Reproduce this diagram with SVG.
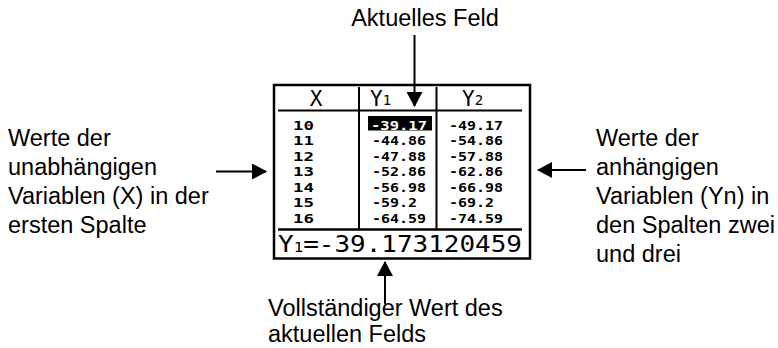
<svg xmlns="http://www.w3.org/2000/svg" width="778" height="348" viewBox="0 0 778 348">
<style>
.lbl{font-family:"Liberation Sans",Arial,sans-serif;font-size:23.5px;fill:#000}
.hd{font-family:"DejaVu Sans Mono",monospace;font-size:21px;fill:#000}
.sub{font-size:14px}
.dat{font-family:"DejaVu Sans Mono",monospace;font-size:12.8px;font-weight:bold;fill:#000}
.big{font-family:"DejaVu Sans Mono",monospace;font-size:23px;fill:#000}
.ln{stroke:#000;stroke-width:2;fill:none}
.conn{stroke:#000;stroke-width:2;fill:none;marker-end:url(#ah)}
</style>
<defs>
<marker id="ah" markerUnits="userSpaceOnUse" markerWidth="15" markerHeight="16" refX="14" refY="8" orient="auto">
<path d="M0,0 L15,8 L0,16 z" fill="#000"/>
</marker>
</defs>
<rect width="778" height="348" fill="#fff"/>
<g id="screen">
<rect x="274" y="85" width="256" height="173.5" stroke="#000" stroke-width="2.5" fill="none"/>
<line x1="278" y1="110.5" x2="522" y2="110.5" class="ln"/>
<line x1="278" y1="229.5" x2="522" y2="229.5" stroke="#000" stroke-width="2.5"/>
<line x1="359" y1="87" x2="359" y2="229" class="ln"/>
<line x1="436.5" y1="87" x2="436.5" y2="229" class="ln"/>
<text class="hd" x="316" y="106" text-anchor="middle">X</text>
<text class="hd" x="370" y="106">Y<tspan class="sub" dy="-1">1</tspan></text>
<text class="hd" x="462" y="106">Y<tspan class="sub" dy="-1">2</tspan></text>
<rect x="368" y="116" width="64" height="14.5" fill="#000"/>
<g class="dat">
<text x="293" y="129.5" textLength="21" lengthAdjust="spacingAndGlyphs">10</text>
<text x="293" y="145" textLength="21" lengthAdjust="spacingAndGlyphs">11</text>
<text x="293" y="160.5" textLength="21" lengthAdjust="spacingAndGlyphs">12</text>
<text x="293" y="176" textLength="21" lengthAdjust="spacingAndGlyphs">13</text>
<text x="293" y="191.5" textLength="21" lengthAdjust="spacingAndGlyphs">14</text>
<text x="293" y="207" textLength="21" lengthAdjust="spacingAndGlyphs">15</text>
<text x="293" y="222.5" textLength="21" lengthAdjust="spacingAndGlyphs">16</text>
<text x="371" y="129.5" fill="#fff" textLength="56" lengthAdjust="spacingAndGlyphs">-39.17</text>
<text x="372" y="145" textLength="54" lengthAdjust="spacingAndGlyphs">-44.86</text>
<text x="372" y="160.5" textLength="54" lengthAdjust="spacingAndGlyphs">-47.88</text>
<text x="372" y="176" textLength="54" lengthAdjust="spacingAndGlyphs">-52.86</text>
<text x="372" y="191.5" textLength="54" lengthAdjust="spacingAndGlyphs">-56.98</text>
<text x="372" y="207" textLength="45" lengthAdjust="spacingAndGlyphs">-59.2</text>
<text x="372" y="222.5" textLength="54" lengthAdjust="spacingAndGlyphs">-64.59</text>
<text x="449" y="129.5" textLength="54" lengthAdjust="spacingAndGlyphs">-49.17</text>
<text x="449" y="145" textLength="54" lengthAdjust="spacingAndGlyphs">-54.86</text>
<text x="449" y="160.5" textLength="54" lengthAdjust="spacingAndGlyphs">-57.88</text>
<text x="449" y="176" textLength="54" lengthAdjust="spacingAndGlyphs">-62.86</text>
<text x="449" y="191.5" textLength="54" lengthAdjust="spacingAndGlyphs">-66.98</text>
<text x="449" y="207" textLength="45" lengthAdjust="spacingAndGlyphs">-69.2</text>
<text x="449" y="222.5" textLength="54" lengthAdjust="spacingAndGlyphs">-74.59</text>
</g>
<text class="big" x="278" y="252" textLength="244" lengthAdjust="spacingAndGlyphs">Y<tspan class="sub" font-size="15px">1</tspan>=-39.173120459</text>
</g>
<g id="label-top">
<text class="lbl" x="425" y="26" text-anchor="middle">Aktuelles Feld</text>
</g>
<g id="label-left">
<text class="lbl" x="8" y="146">Werte der</text>
<text class="lbl" x="8" y="175">unabhängigen</text>
<text class="lbl" x="8" y="204">Variablen (X) in der</text>
<text class="lbl" x="8" y="233">ersten Spalte</text>
</g>
<g id="label-right">
<text class="lbl" x="596" y="146">Werte der</text>
<text class="lbl" x="596" y="175">anhängigen</text>
<text class="lbl" x="596" y="204">Variablen (Yn) in</text>
<text class="lbl" x="596" y="233">den Spalten zwei</text>
<text class="lbl" x="596" y="262">und drei</text>
</g>
<g id="label-bottom">
<text class="lbl" x="268" y="316">Vollständiger Wert des</text>
<text class="lbl" x="268" y="342">aktuellen Felds</text>
</g>
<g id="connectors">
<line x1="414.5" y1="35" x2="414.5" y2="106" class="conn"/>
<line x1="385" y1="304" x2="385" y2="262" class="conn"/>
<line x1="216" y1="171.5" x2="266" y2="171.5" class="conn"/>
<line x1="586" y1="170" x2="538" y2="170" class="conn"/>
</g>
</svg>
